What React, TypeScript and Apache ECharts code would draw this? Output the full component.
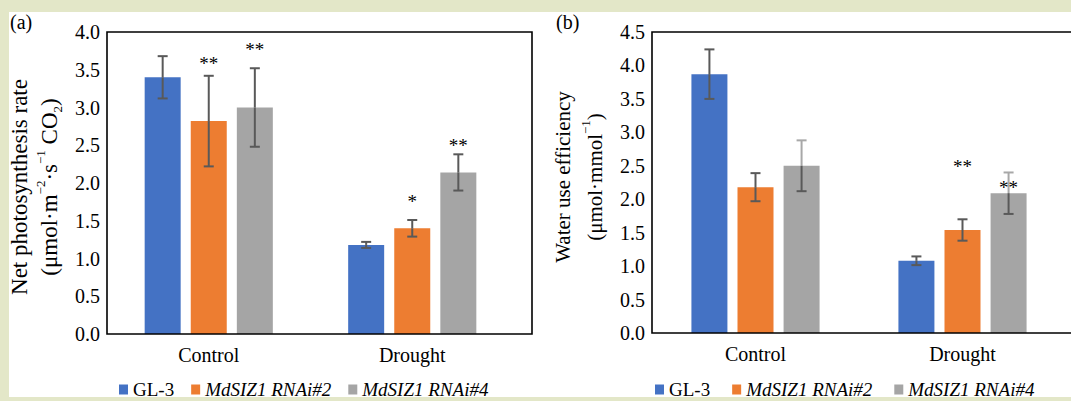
import React, { useEffect, useRef } from 'react';
import * as echarts from 'echarts';

// ---------- data ----------
const categories = ['Control', 'Drought'];
const seriesNames = ['GL-3', 'MdSIZ1 RNAi#2', 'MdSIZ1 RNAi#4'];

// (a) Net photosynthesis rate
const photoGL3 = [3.40, 1.18];
const photoRNAi2 = [2.82, 1.40];
const photoRNAi4 = [3.00, 2.14];
const photoErrGL3 = [0.28, 0.04];
const photoErrRNAi2 = [0.60, 0.11];
const photoErrRNAi4 = [0.52, 0.24];

// (b) Water use efficiency
const wueGL3 = [3.87, 1.08];
const wueRNAi2 = [2.18, 1.54];
const wueRNAi4 = [2.50, 2.09];
const wueErrGL3 = [0.37, 0.065];
const wueErrRNAi2 = [0.21, 0.16];
const wueErrRNAi4 = [0.38, 0.31];

// significance marks: [category index, series index, anchor value, text]
const starsA: [number, number, number, string][] = [
  [0, 1, 3.61, '**'],
  [0, 2, 3.79, '**'],
  [1, 1, 1.78, '*'],
  [1, 2, 2.52, '**'],
];
const starsB: [number, number, number, string][] = [
  [1, 1, 2.52, '**'],
  [1, 2, 2.20, '**'],
];

const yMaxA = 4.0;
const yMaxB = 4.5;
const yInterval = 0.5;

// ---------- style ----------
const FONT = "'Liberation Serif', 'Times New Roman', serif";
const COLORS = ['#4472c4', '#ed7d31', '#a5a5a5'];
const ERR_COLOR = '#595959';
const ERR_LIGHT = '#a8a8a8';
const FRAME = '#e3e7c8';
const BAR_W = 36;
const BAR_GAP = 0.28;
const BAR_STEP = BAR_W * (1 + BAR_GAP);
const CAP = 5;

const GRID_A = { left: 107, top: 32, width: 407, height: 302 };
const GRID_B = { left: 652, top: 32, width: 414, height: 301 };
const BOX_A_RIGHT = 532;
const BOX_B_RIGHT = 1080;

function makeErrRender(lightAboveSeries: number[]) {
  return (params: any, api: any) => {
    const cat = api.value(0);
    const mean = api.value(1);
    const err = api.value(2);
    const s = api.value(3);
    const c = api.coord([cat, mean]);
    const t = api.coord([cat, mean + err]);
    const b = api.coord([cat, mean - err]);
    const x = c[0] + (s - 1) * BAR_STEP;
    const light = lightAboveSeries.indexOf(s) >= 0;
    const upper = light ? ERR_LIGHT : ERR_COLOR;
    const lw = 2;
    return {
      type: 'group',
      children: [
        { type: 'line', shape: { x1: x, y1: t[1], x2: x, y2: c[1] }, style: { stroke: upper, lineWidth: lw } },
        { type: 'line', shape: { x1: x, y1: c[1], x2: x, y2: b[1] }, style: { stroke: ERR_COLOR, lineWidth: lw } },
        { type: 'line', shape: { x1: x - CAP, y1: t[1], x2: x + CAP, y2: t[1] }, style: { stroke: upper, lineWidth: lw } },
        { type: 'line', shape: { x1: x - CAP, y1: b[1], x2: x + CAP, y2: b[1] }, style: { stroke: ERR_COLOR, lineWidth: lw } },
      ],
    };
  };
}

function makeStarRender(stars: [number, number, number, string][]) {
  return (params: any, api: any) => {
    const st = stars[params.dataIndex];
    const p = api.coord([st[0], st[2]]);
    const x = p[0] + (st[1] - 1) * BAR_STEP;
    return {
      type: 'text',
      x,
      y: p[1] + 2,
      style: {
        text: st[3],
        fontSize: 19,
        fontFamily: FONT,
        fill: '#000',
        align: 'center',
        verticalAlign: 'middle',
      },
    };
  };
}

function errData(means: number[][], errs: number[][]) {
  const out: number[][] = [];
  for (let s = 0; s < means.length; s++) {
    for (let c = 0; c < categories.length; c++) {
      out.push([c, means[s][c], errs[s][c], s]);
    }
  }
  return out;
}

export default function App() {
  const ref = useRef<HTMLDivElement>(null);
  useEffect(() => {
    const chart = echarts.init(ref.current!, null, { renderer: 'svg' });

    const meansA = [photoGL3, photoRNAi2, photoRNAi4];
    const errsA = [photoErrGL3, photoErrRNAi2, photoErrRNAi4];
    const meansB = [wueGL3, wueRNAi2, wueRNAi4];
    const errsB = [wueErrGL3, wueErrRNAi2, wueErrRNAi4];

    const axisLabelStyle = { color: '#000', fontSize: 20, fontFamily: FONT };
    const legendText = {
      color: '#000',
      fontSize: 19,
      fontWeight: 'normal',
      fontFamily: FONT,
      textBorderWidth: 0,
      textBorderColor: 'transparent',
      rich: {
        it: {
          fontStyle: 'italic',
          fontWeight: 'normal',
          fontSize: 19,
          fontFamily: FONT,
          color: '#000',
          textBorderWidth: 0,
          textBorderColor: 'transparent',
        },
      },
    };
    const legendFormatter = (name: string) => (name === 'GL-3' ? name : `{it|${name}}`);

    const titleRich = {
      sup: { fontSize: 13, fontFamily: FONT, fill: '#000', verticalAlign: 'top', lineHeight: 28 },
      sub: { fontSize: 13, fontFamily: FONT, fill: '#000', verticalAlign: 'bottom', lineHeight: 17 },
    };

    const barSeries = (means: number[][], idx: number) =>
      means.map((m, s) => ({
        type: 'bar',
        name: seriesNames[s],
        xAxisIndex: idx,
        yAxisIndex: idx,
        data: m,
        barWidth: BAR_W,
        barGap: `${BAR_GAP * 100}%`,
        itemStyle: { color: COLORS[s] },
        z: 2,
      }));

    chart.setOption({
      animation: false,
      backgroundColor: '#ffffff',
      color: COLORS,
      grid: [
        { ...GRID_A },
        { ...GRID_B },
      ],
      xAxis: [0, 1].map((i) => ({
        gridIndex: i,
        type: 'category',
        data: categories,
        axisLine: { show: false },
        axisTick: { show: false },
        axisLabel: { ...axisLabelStyle, margin: 11 },
      })),
      yAxis: [
        { max: yMaxA, idx: 0 },
        { max: yMaxB, idx: 1 },
      ].map((a) => ({
        gridIndex: a.idx,
        type: 'value',
        min: 0,
        max: a.max,
        interval: yInterval,
        axisLine: { show: false },
        axisTick: { show: false },
        splitLine: { show: false },
        axisLabel: { ...axisLabelStyle, margin: 7, formatter: (v: number) => v.toFixed(1) },
      })),
      legend: [
        {
          left: 114,
          top: 375,
          icon: 'rect',
          itemWidth: 9,
          itemHeight: 10,
          itemGap: 17,
          data: seriesNames,
          textStyle: legendText,
          formatter: legendFormatter,
        },
        {
          left: 650,
          top: 375,
          icon: 'rect',
          itemWidth: 9,
          itemHeight: 10,
          itemGap: 22,
          data: seriesNames,
          textStyle: legendText,
          formatter: legendFormatter,
        },
      ],
      series: [
        ...barSeries(meansA, 0),
        ...barSeries(meansB, 1),
        {
          type: 'custom',
          name: 'errA',
          xAxisIndex: 0,
          yAxisIndex: 0,
          renderItem: makeErrRender([]),
          encode: { x: 0, y: 1 },
          data: errData(meansA, errsA),
          z: 5,
        },
        {
          type: 'custom',
          name: 'errB',
          xAxisIndex: 1,
          yAxisIndex: 1,
          renderItem: makeErrRender([2]),
          encode: { x: 0, y: 1 },
          data: errData(meansB, errsB),
          z: 5,
        },
        {
          type: 'custom',
          name: 'starsA',
          xAxisIndex: 0,
          yAxisIndex: 0,
          renderItem: makeStarRender(starsA),
          encode: { x: 0, y: 2 },
          data: starsA.map((s) => [s[0], s[1], s[2]]),
          z: 6,
        },
        {
          type: 'custom',
          name: 'starsB',
          xAxisIndex: 1,
          yAxisIndex: 1,
          renderItem: makeStarRender(starsB),
          encode: { x: 0, y: 2 },
          data: starsB.map((s) => [s[0], s[1], s[2]]),
          z: 6,
        },
      ],
      graphic: [
        {
          type: 'rect',
          z: 10,
          shape: { x: GRID_A.left, y: GRID_A.top, width: BOX_A_RIGHT - GRID_A.left, height: GRID_A.height },
          style: { fill: 'none', stroke: '#000', lineWidth: 1.6 },
        },
        {
          type: 'rect',
          z: 10,
          shape: { x: GRID_B.left, y: GRID_B.top, width: BOX_B_RIGHT - GRID_B.left, height: GRID_B.height },
          style: { fill: 'none', stroke: '#000', lineWidth: 1.6 },
        },
        {
          type: 'text',
          x: 10,
          y: 22,
          style: { text: '(a)', fontSize: 20, fontFamily: FONT, fill: '#000', verticalAlign: 'middle' },
        },
        {
          type: 'text',
          x: 556,
          y: 22,
          style: { text: '(b)', fontSize: 20, fontFamily: FONT, fill: '#000', verticalAlign: 'middle' },
        },
        {
          type: 'text',
          x: 34,
          y: 187,
          rotation: Math.PI / 2,
          style: {
            text: 'Net photosynthesis rate\n(μmol·m{sup|−2}·s{sup|−1} CO{sub|2})',
            fontSize: 23,
            lineHeight: 30,
            fontFamily: FONT,
            fill: '#000',
            align: 'center',
            verticalAlign: 'middle',
            rich: titleRich,
          },
        },
        {
          type: 'text',
          x: 579,
          y: 177,
          rotation: Math.PI / 2,
          style: {
            text: 'Water use efficiency\n(μmol·mmol{sup|−1})',
            fontSize: 21,
            lineHeight: 32,
            fontFamily: FONT,
            fill: '#000',
            align: 'center',
            verticalAlign: 'middle',
            rich: titleRich,
          },
        },
        // frame bands
        { type: 'rect', z: 100, shape: { x: 0, y: 0, width: 1071, height: 12 }, style: { fill: FRAME } },
        { type: 'rect', z: 100, shape: { x: 0, y: 0, width: 9, height: 401 }, style: { fill: FRAME } },
        { type: 'rect', z: 100, shape: { x: 0, y: 397, width: 1071, height: 4 }, style: { fill: FRAME } },
      ],
    });
    return () => chart.dispose();
  }, []);
  return (
    <div
      ref={ref}
      style={{ position: 'absolute', left: 0, top: 0, width: 1071, height: 401 }}
    />
  );
}
